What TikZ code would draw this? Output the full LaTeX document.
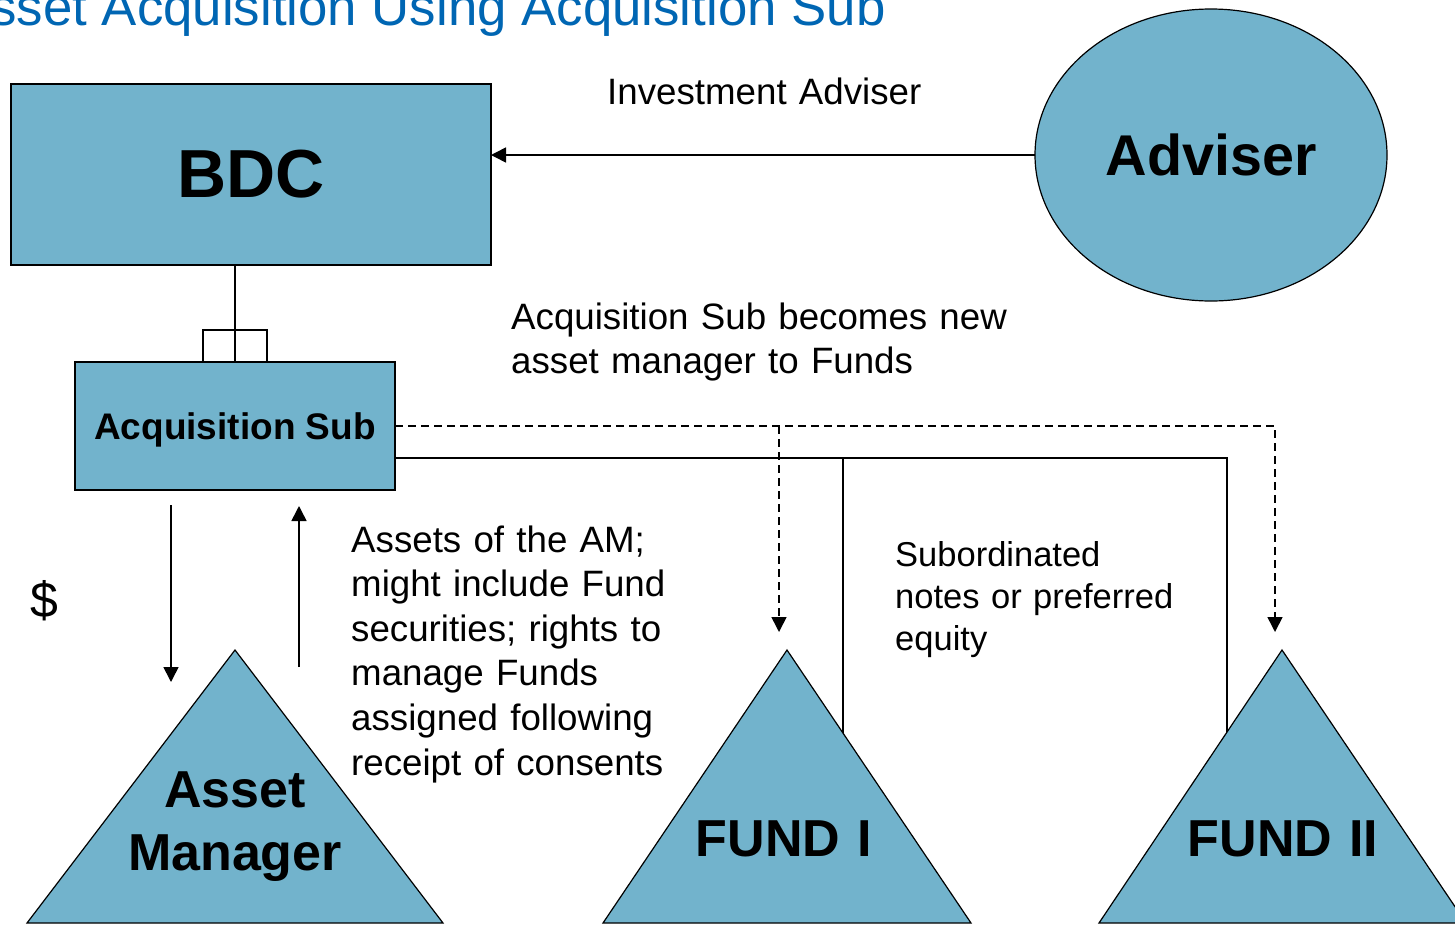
\documentclass[tikz,border=0pt]{standalone}
\usepackage{fontspec}
\setmainfont{Liberation Sans}
\usetikzlibrary{arrows.meta,calc,shapes.geometric}
\definecolor{boxblue}{RGB}{114,179,204}
\definecolor{titleblue}{RGB}{0,102,179}
\begin{document}
\begin{tikzpicture}[x=1pt,y=-1pt,
  boxstyle/.style={draw=black,fill=boxblue,line width=1.7pt,inner sep=0pt,outer sep=0pt},
  shapeline/.style={draw=black,fill=boxblue,line width=1.2pt},
  conn/.style={draw=black,line width=1.6pt},
  dashconn/.style={draw=black,line width=1.6pt,dash pattern=on 8pt off 5pt},
  arrtip/.style={-{Triangle[length=15pt,width=15pt]}},
  lbl/.style={inner sep=0pt,anchor=base west,align=left,font=\fontsize{36.7}{44.6}\selectfont},
  sublbl/.style={inner sep=0pt,anchor=base west,align=left,font=\fontsize{34.5}{42}\selectfont},
  tritext/.style={inner sep=0pt,anchor=base,align=center,text width=340pt,font=\bfseries\fontsize{52}{63}\selectfont}
]
\useasboundingbox (0,0) rectangle (1455,924);
\clip (0,0) rectangle (1455,924);

% title
\node[anchor=base west,inner sep=0pt,text=titleblue,font=\fontsize{52.8}{63}\selectfont] (title) at (-45,25) {Asset Acquisition Using Acquisition Sub};

% main boxes
\node[boxstyle,minimum width=480pt,minimum height=181pt,font=\bfseries\fontsize{68}{80}\selectfont] (bdc) at (251,174.5) {BDC};
\node[ellipse,shapeline,minimum width=352pt,minimum height=292pt,inner sep=0pt,outer sep=0pt,font=\bfseries\fontsize{57.5}{68}\selectfont] (adv) at (1211,155) {Adviser};
\node[draw=black,line width=1.6pt,minimum width=64pt,minimum height=32pt,inner sep=0pt,outer sep=0pt] (stub) at (235,346) {};
\node[boxstyle,minimum width=320pt,minimum height=128pt,text depth=0pt,font=\bfseries\fontsize{37}{44}\selectfont] (acq) at (235,426) {Acquisition Sub};

% triangles
\coordinate (amtop) at (235,650); \coordinate (ambl) at (27,923); \coordinate (ambr) at (443,923);
\coordinate (f1top) at (787,650); \coordinate (f1bl) at (603,923); \coordinate (f1br) at (971,923);
\coordinate (f2top) at (1282,650); \coordinate (f2bl) at (1099,923); \coordinate (f2br) at (1466,923);
\path[shapeline] (amtop) -- (ambr) -- (ambl) -- cycle;
\path[shapeline] (f1top) -- (f1br) -- (f1bl) -- cycle;
\path[shapeline] (f2top) -- (f2br) -- (f2bl) -- cycle;
\node[tritext] (amtext) at (235,807) {Asset\\Manager};
\node[tritext] (f1text) at (784,856) {FUND I};
\node[tritext] (f2text) at (1283,856) {FUND II};

% connector end points
\coordinate (f1arr) at (779,632);
\coordinate (f2arr) at (1275,632);
\coordinate (f1edge) at (843,733);
\coordinate (f2edge) at (1227,732);
\coordinate (bus) at ([yshift=-32pt]acq.east);
\coordinate (downstart) at (171,505);
\coordinate (downend) at (171,682);
\coordinate (upstart) at (299,667);
\coordinate (upend) at (299,506);

% connectors
\draw[conn,arrtip] (adv.west) -- (adv.west -| bdc.east);
\draw[conn] (acq.north |- bdc.south) -- (acq.north);
\draw[dashconn,arrtip] (acq.east) -- (acq.east -| f2arr) -- (f2arr);
\draw[dashconn,arrtip] (acq.east -| f1arr) -- (f1arr);
\draw[conn] (bus) -| (f2edge);
\draw[conn] (bus -| f1edge) -- (f1edge);
\draw[conn,arrtip] (downstart) -- (downend);
\draw[conn,arrtip] (upstart) -- (upend);

% labels
\node[lbl,text width=480pt] (invlbl) at (607,104) {Investment Adviser};
\node[lbl,text width=560pt] (newmgr) at (511,329) {Acquisition Sub becomes new\\asset manager to Funds};
\node[lbl,text width=400pt] (assets) at (351,552) {Assets of the AM;\\might include Fund\\securities; rights to\\manage Funds\\assigned following\\receipt of consents};
\node[sublbl,text width=330pt] (subord) at (895,566) {Subordinated\\notes or preferred\\equity};
\node[inner sep=0pt,anchor=base west,font=\fontsize{50}{60}\selectfont] (dollar) at (30,617) {\$};
\end{tikzpicture}
\end{document}
